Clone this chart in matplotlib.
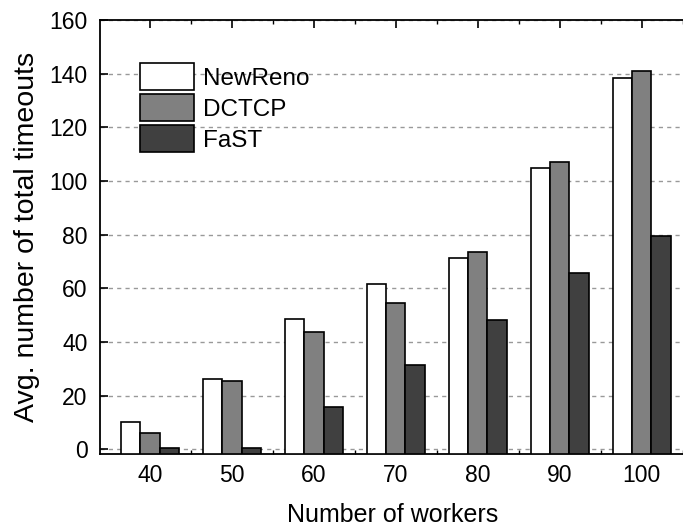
import numpy as np
import matplotlib
matplotlib.use("Agg")
import matplotlib.pyplot as plt

plt.rcParams['font.family'] = ['Liberation Sans', 'DejaVu Sans']

############################# data #############################
workers = [40, 50, 60, 70, 80, 90, 100]
newreno = [10.2, 26.0, 48.4, 61.4, 71.4, 104.7, 138.2]
dctcp = [6.2, 25.4, 43.6, 54.4, 73.4, 106.9, 140.9]
fast = [0.4, 0.3, 15.8, 31.5, 48.2, 65.6, 79.4]
series = ["NewReno", "DCTCP", "FaST"]
colors = ["white", "#808080", "#404040"]

############################# plot #############################
fig = plt.figure(figsize=(6.83, 5.27), dpi=100)
ax = fig.add_axes([0.1464, 0.1385, 0.8556, 0.8235])

x = np.arange(len(workers))
w = 0.235
base = -1.8
for i, (vals, c, name) in enumerate(zip([newreno, dctcp, fast], colors, series)):
    v = np.array(vals)
    ax.bar(x + (i - 1) * w, v - base, w, bottom=base, color=c,
           edgecolor="black", linewidth=1.2, label=name, zorder=3)

ax.set_xlim(-0.61, 6.52)
ax.set_ylim(base, 160)
ax.set_xticks(x)
ax.set_xticklabels([str(v) for v in workers])
ax.set_xticks(x + 0.5, minor=True)
ax.set_yticks(np.arange(0, 161, 20))
ax.yaxis.grid(True, linestyle=(0, (3, 3)), color="#999999", linewidth=1, zorder=0)

ax.tick_params(axis="both", which="both", direction="in", top=True, labelsize=16.5)
ax.tick_params(axis="both", which="major", length=6, width=1.2)
ax.tick_params(axis="x", which="minor", length=3, width=1)
ax.tick_params(axis="x", pad=7)
ax.tick_params(axis="y", pad=9)
for s in ax.spines.values():
    s.set_linewidth(1.3)

ax.set_xlabel("Number of workers", fontsize=18, labelpad=12)
ax.set_ylabel("Avg. number of total timeouts", fontsize=20.5, labelpad=7)

leg = ax.legend(loc="upper left", bbox_to_anchor=(0.068, 0.9), frameon=False,
                fontsize=17.5, handlelength=2.24, handleheight=1.3,
                handletextpad=0.38, labelspacing=0.18, borderaxespad=0,
                borderpad=0)

fig.savefig("out.png", dpi=100)
